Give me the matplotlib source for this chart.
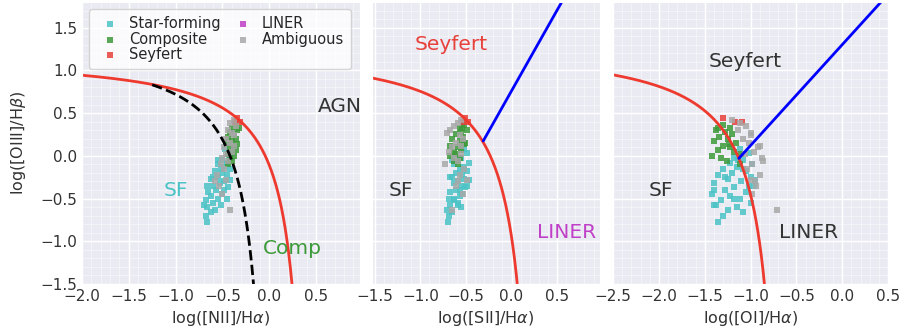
import numpy as np
import matplotlib
matplotlib.use("Agg")
import matplotlib.pyplot as plt
from matplotlib.ticker import MultipleLocator
import seaborn as sns

sns.set_style("darkgrid")

# line ratios per class: log([OIII]/Hb), log([NII]/Ha), log([SII]/Ha), log([OI]/Ha)
sf_o3 = [0.08, 0.03, -0.02, -0.05, -0.08, -0.10, -0.13, -0.15, -0.18, -0.20,
         -0.22, -0.25, -0.27, -0.30, -0.32, -0.35, -0.37, -0.40, -0.42, -0.45,
         -0.47, -0.50, -0.52, -0.55, -0.57, -0.60, -0.63, -0.66, -0.70, -0.77,
         -0.28, -0.15, -0.40, -0.50, -0.25, -0.58, -0.35, -0.05]
sf_n2 = [-0.47, -0.40, -0.43, -0.50, -0.45, -0.55, -0.48, -0.42, -0.58, -0.50,
         -0.45, -0.55, -0.62, -0.48, -0.53, -0.60, -0.44, -0.57, -0.65, -0.50,
         -0.62, -0.55, -0.68, -0.60, -0.52, -0.66, -0.58, -0.62, -0.68, -0.66,
         -0.42, -0.52, -0.48, -0.45, -0.60, -0.70, -0.66, -0.55]
sf_s2 = [-0.52, -0.49, -0.55, -0.59, -0.47, -0.63, -0.53, -0.57, -0.49, -0.61,
         -0.54, -0.65, -0.52, -0.59, -0.63, -0.55, -0.51, -0.61, -0.67, -0.54,
         -0.57, -0.69, -0.63, -0.59, -0.67, -0.55, -0.71, -0.65, -0.69, -0.70,
         -0.47, -0.52, -0.57, -0.63, -0.67, -0.59, -0.49, -0.65]
sf_o1 = [-1.12, -1.02, -1.18, -1.08, -1.22, -0.98, -1.15, -1.30, -1.05, -1.20,
         -1.35, -1.00, -1.25, -1.10, -1.40, -0.96, -1.18, -1.28, -1.05, -1.42,
         -1.22, -1.12, -1.32, -1.00, -1.40, -1.15, -1.25, -1.08, -1.30, -1.35,
         -0.95, -1.08, -1.40, -1.18, -1.28, -1.38, -1.02, -1.14]

comp_o3 = [0.36, 0.33, 0.30, 0.28, 0.25, 0.22, 0.20, 0.17, 0.15, 0.12,
           0.10, 0.07, 0.05, 0.02, 0.00, -0.03, -0.06, -0.09, 0.32, 0.14]
comp_n2 = [-0.36, -0.40, -0.34, -0.42, -0.38, -0.44, -0.36, -0.40, -0.46, -0.38,
           -0.42, -0.36, -0.40, -0.44, -0.38, -0.42, -0.40, -0.44, -0.32, -0.34]
comp_s2 = [-0.52, -0.57, -0.49, -0.55, -0.61, -0.53, -0.65, -0.57, -0.51, -0.67,
           -0.59, -0.55, -0.63, -0.61, -0.67, -0.57, -0.63, -0.59, -0.54, -0.52]
comp_o1 = [-1.30, -1.22, -1.38, -1.28, -1.20, -1.34, -1.25, -1.40, -1.16, -1.30,
           -1.22, -1.35, -1.18, -1.10, -1.42, -1.32, -1.26, -1.12, -1.36, -1.24]

sey_o3 = [0.44, 0.40, 0.40]
sey_n2 = [-0.34, -0.31, -0.37]
sey_s2 = [-0.51, -0.48, -0.53]
sey_o1 = [-1.30, -1.17, -1.09]

liner_o3 = []
liner_n2 = []
liner_s2 = []
liner_o1 = []

amb_o3 = [0.42, 0.38, 0.35, 0.30, 0.27, 0.24, 0.20, 0.15, 0.10, 0.05,
          0.02, -0.02, -0.06, -0.10, -0.15, -0.22, -0.28, -0.35, -0.45, -0.63,
          0.12, -0.30]
amb_n2 = [-0.38, -0.42, -0.36, -0.44, -0.40, -0.38, -0.46, -0.42, -0.48, -0.40,
          -0.46, -0.50, -0.44, -0.52, -0.48, -0.56, -0.46, -0.54, -0.50, -0.42,
          -0.38, -0.58]
amb_s2 = [-0.55, -0.59, -0.63, -0.67, -0.71, -0.57, -0.53, -0.61, -0.65, -0.69,
          -0.55, -0.63, -0.59, -0.73, -0.52, -0.57, -0.49, -0.61, -0.53, -0.65,
          -0.55, -0.59]
amb_o1 = [-1.20, -1.12, -1.05, -1.14, -1.00, -1.00, -1.08, -1.02, -0.92, -0.96,
          -1.06, -0.88, -0.86, -0.98, -1.04, -0.90, -1.00, -0.94, -0.98, -0.71,
          -0.90, -0.95]

classes = [
    ("Star-forming", "#4cc3c6", sf_n2, sf_s2, sf_o1, sf_o3),
    ("Composite", "#3d9a3a", comp_n2, comp_s2, comp_o1, comp_o3),
    ("Seyfert", "#e8403a", sey_n2, sey_s2, sey_o1, sey_o3),
    ("LINER", "#c040c8", liner_n2, liner_s2, liner_o1, liner_o3),
    ("Ambiguous", "#a8a8a8", amb_n2, amb_s2, amb_o1, amb_o3),
]

xlabels = [r"log([NII]/H$\alpha$)", r"log([SII]/H$\alpha$)", r"log([OI]/H$\alpha$)"]
xlims = [(-2.0, 0.97), (-1.53, 0.97), (-2.5, 0.5)]
ylim = (-1.5, 1.8)

fig = plt.figure(figsize=(9.06, 3.34), dpi=100)
W, H = 906, 334
boxes = [(82, 278), (372, 228), (613, 275)]
axes = []
for i, (x0, w) in enumerate(boxes):
    ax = fig.add_axes([x0 / W, 50 / H, w / W, 282 / H])
    axes.append(ax)

red = "#ee3a2e"
dark = "#333333"

for i, ax in enumerate(axes):
    ax.set_xlim(*xlims[i])
    ax.set_ylim(*ylim)
    ax.xaxis.set_major_locator(MultipleLocator(0.5))
    ax.yaxis.set_major_locator(MultipleLocator(0.5))
    ax.xaxis.set_minor_locator(MultipleLocator(0.1))
    ax.yaxis.set_minor_locator(MultipleLocator(0.1))
    ax.grid(which="major", color="white", linewidth=1.0)
    ax.grid(which="minor", color="white", linewidth=0.4, alpha=0.7)
    ax.tick_params(which="both", length=0, labelsize=11, colors=dark)
    ax.set_xlabel(xlabels[i], fontsize=11.5, color=dark)
    for name, c, n2, s2, o1, o3 in classes:
        xs = [n2, s2, o1][i]
        ax.scatter(xs, o3, marker="s", s=16, color=c, alpha=0.85,
                   linewidths=0, label=name)
    if i > 0:
        ax.set_yticklabels([])

axes[0].set_ylabel(r"log([OIII]/H$\beta$)", fontsize=11.5, color=dark, labelpad=9)

# NII panel
x = np.linspace(-2.0, 0.4, 500)
y = 0.61 / (x - 0.47) + 1.19
m = y > -1.6
axes[0].plot(x[m], y[m], color=red, lw=2)
x = np.linspace(-1.25, 0.04, 500)
y = 0.61 / (x - 0.05) + 1.3
m = y > -1.6
axes[0].plot(x[m], y[m], color="black", lw=2, ls="--")
axes[0].text(0.75, 0.58, "AGN", fontsize=14.5, color=dark, ha="center", va="center")
axes[0].text(-1.0, -0.41, "SF", fontsize=14.5, color="#4cc3c6", ha="center", va="center")
axes[0].text(0.25, -1.09, "Comp", fontsize=14.5, color="#3d9a3a", ha="center", va="center")

# SII panel
x = np.linspace(-1.6, 0.3, 500)
y = 0.72 / (x - 0.32) + 1.30
m = y > -1.6
axes[1].plot(x[m], y[m], color=red, lw=2)
x = np.linspace(-0.31, 0.6, 50)
axes[1].plot(x, 1.89 * x + 0.76, color="blue", lw=2)
axes[1].text(-0.66, 1.30, "Seyfert", fontsize=14.5, color="#e8403a", ha="center", va="center")
axes[1].text(-1.21, -0.40, "SF", fontsize=14.5, color=dark, ha="center", va="center")
axes[1].text(0.6, -0.90, "LINER", fontsize=14.5, color="#c040c8", ha="center", va="center")

# OI panel
x = np.linspace(-2.5, -0.6, 500)
y = 0.73 / (x + 0.59) + 1.33
m = y > -1.6
axes[2].plot(x[m], y[m], color=red, lw=2)
x = np.linspace(-1.127, 0.6, 50)
axes[2].plot(x, 1.18 * x + 1.30, color="blue", lw=2)
axes[2].text(-1.06, 1.10, "Seyfert", fontsize=14.5, color=dark, ha="center", va="center")
axes[2].text(-1.98, -0.40, "SF", fontsize=14.5, color=dark, ha="center", va="center")
axes[2].text(-0.37, -0.90, "LINER", fontsize=14.5, color=dark, ha="center", va="center")

axes[0].legend(loc="upper left", ncol=2, fontsize=10.5, markerscale=1.0,
               handlelength=2.0, handletextpad=0.3, columnspacing=0.5,
               labelspacing=0.05, borderpad=0.45, borderaxespad=0.5,
               frameon=True, facecolor="white", framealpha=0.8)

fig.savefig("out.png", dpi=100)
